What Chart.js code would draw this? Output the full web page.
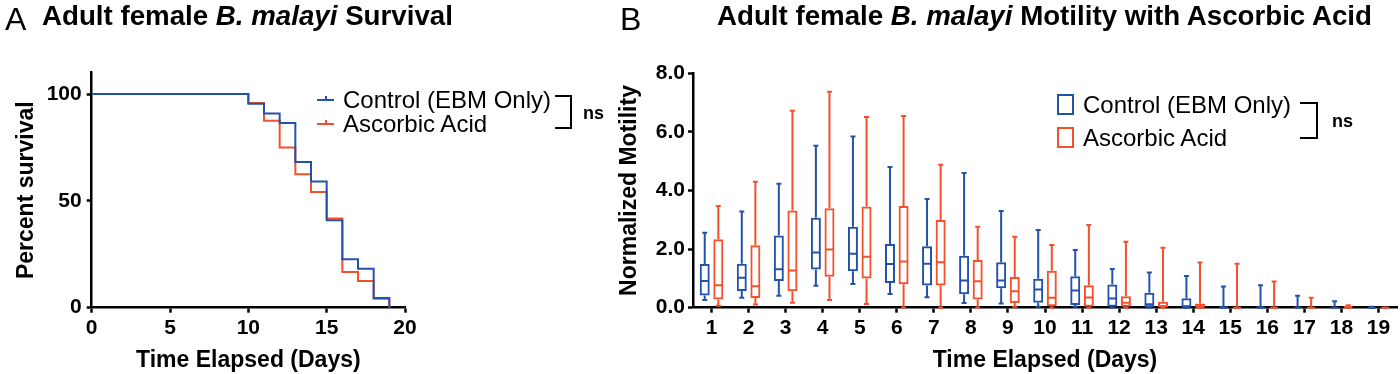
<!DOCTYPE html>
<html><head><meta charset="utf-8">
<script src="https://cdn.jsdelivr.net/npm/chart.js@4.4.0/dist/chart.umd.min.js"></script>
<style>
html,body{margin:0;padding:0;background:#fff;}
#wrap{position:relative;width:1400px;height:374px;overflow:hidden;font-family:"Liberation Sans",Arial,sans-serif;color:#000;background:#fff;}
.abs{position:absolute;white-space:nowrap;}
#cA{position:absolute;left:0;top:0;}
#cB{position:absolute;left:610px;top:0;}
.title{font-weight:bold;font-size:27.7px;line-height:1;}
.panel{font-size:32px;line-height:1;}
.leg{font-size:24px;line-height:24px;}
.ns{font-weight:bold;font-size:18px;line-height:18px;}
.bracket{border:2px solid #000;border-left:none;}
</style></head>
<body>
<div id="wrap">
  <canvas id="cA" width="610" height="374"></canvas>
  <canvas id="cB" width="790" height="374"></canvas>
  <div class="abs panel" style="left:5px;top:3px;">A</div>
  <div class="abs title" style="left:42px;top:2px;">Adult female <i>B. malayi</i> Survival</div>
  <div class="abs panel" style="left:620px;top:3px;">B</div>
  <div class="abs title" style="left:717px;top:2px;">Adult female <i>B. malayi</i> Motility with Ascorbic Acid</div>
  <div id="legA"></div>
  <div id="legB"></div>
  <div class="abs bracket" style="left:555px;top:95px;width:15px;height:30px;"></div>
  <div class="abs ns" style="left:583px;top:104px;">ns</div>
  <div class="abs bracket" style="left:1300px;top:102px;width:16px;height:33px;"></div>
  <div class="abs ns" style="left:1332px;top:112px;">ns</div>
</div>
<script>
// ---------- Panel A data (Kaplan-Meier) ----------
const survivalDays     = [0, 10, 11, 12, 13, 14, 15, 16, 17, 18, 19];
const controlSurvival  = [100, 95.5, 90.9, 86.4, 68.2, 59.1, 40.9, 22.7, 18.2, 4.5, 0];
const ascorbicSurvival = [100, 95.8, 87.5, 75.0, 62.5, 54.2, 41.7, 16.7, 12.5, 4.2, 0];
const survivalTicks    = [0, 50, 100];

// ---------- Panel B data (box plots) ----------
const days = ['1','2','3','4','5','6','7','8','9','10','11','12','13','14','15','16','17','18','19'];
const ctlMin = [0.26,0.34,0.41,0.75,0.81,0.47,0.36,0.16,0.14,0.03,0.03,0.00,0.00,0.00,0.00,0.00,0.00,0.00,0.00];
const ctlQ1  = [0.42,0.57,0.91,1.30,1.24,0.84,0.76,0.46,0.66,0.17,0.09,0.03,0.00,0.00,0.00,0.00,0.00,0.00,0.00];
const ctlMed = [0.91,1.02,1.31,1.88,1.84,1.49,1.50,0.93,0.93,0.62,0.59,0.31,0.12,0.03,0.01,0.01,0.00,0.00,0.00];
const ctlQ3  = [1.49,1.50,2.46,3.07,2.76,2.17,2.10,1.77,1.55,0.99,1.07,0.79,0.51,0.32,0.04,0.04,0.01,0.01,0.02];
const ctlMax = [2.56,3.28,4.23,5.53,5.84,4.80,3.71,4.60,3.30,2.65,1.97,1.32,1.20,1.08,0.72,0.77,0.41,0.22,0.03];
const ascMin = [0.07,0.11,0.17,0.26,0.13,0.00,0.00,0.00,0.03,0.00,0.00,0.00,0.00,0.00,0.00,0.00,0.00,0.00,0.00];
const ascQ1  = [0.28,0.33,0.56,1.06,1.00,0.80,0.76,0.28,0.16,0.05,0.03,0.03,0.00,0.00,0.00,0.00,0.00,0.00,0.00];
const ascMed = [0.77,0.73,1.27,1.99,1.74,1.58,1.55,0.90,0.56,0.34,0.35,0.17,0.05,0.02,0.00,0.00,0.00,0.02,0.00];
const ascQ3  = [2.34,2.13,3.32,3.39,3.45,3.47,2.99,1.63,1.05,1.26,0.77,0.39,0.20,0.14,0.03,0.01,0.01,0.05,0.01];
const ascMax = [3.47,4.30,6.72,7.37,6.51,6.54,4.88,2.76,2.42,2.14,2.82,2.25,2.05,1.54,1.50,0.89,0.34,0.08,0.01];

const seriesNames = ['Control (EBM Only)', 'Ascorbic Acid'];
const BLUE = '#2352ad';
const RED  = '#f4502b';

Chart.defaults.font.family = '"Liberation Sans", Arial, sans-serif';
Chart.defaults.color = '#000';

const tickFont = {family:'"Liberation Sans", Arial, sans-serif', size:21, weight:'bold'};
const titleFont = {family:'"Liberation Sans", Arial, sans-serif', size:23, weight:'bold'};
const axisGrid = {drawOnChartArea:false, tickLength:5, tickWidth:2.5, tickColor:'#000'};
const axisBorder = {color:'#000', width:2.5};

// ---------- Chart A ----------
const chartA = new Chart(document.getElementById('cA'), {
  type:'line',
  data:{
    datasets:[
      {label:seriesNames[0], data:survivalDays.map((d,i)=>({x:d,y:controlSurvival[i]})),
       borderColor:BLUE, borderWidth:2, pointRadius:0, stepped:true, fill:false},
      {label:seriesNames[1], data:survivalDays.map((d,i)=>({x:d,y:ascorbicSurvival[i]})),
       borderColor:RED, borderWidth:2, pointRadius:0, stepped:true, fill:false}
    ]
  },
  options:{
    responsive:false, animation:false, devicePixelRatio:1,
    layout:{padding:{left:0,right:205,top:72.7,bottom:0}},
    plugins:{legend:{display:false}, tooltip:{enabled:false}},
    scales:{
      x:{type:'linear', min:0, max:20,
         ticks:{stepSize:5, font:tickFont, color:'#000', padding:3, maxRotation:0},
         grid:axisGrid, border:axisBorder,
         title:{display:true, text:'Time Elapsed (Days)', font:titleFont, color:'#000', padding:{top:0,bottom:0}},
         afterFit:s=>{s.height=66.3;}},
      y:{type:'linear', min:0, max:110,
         ticks:{stepSize:50, font:tickFont, color:'#000', padding:5},
         afterBuildTicks:s=>{s.ticks = survivalTicks.map(v=>({value:v}));},
         grid:axisGrid, border:axisBorder,
         title:{display:true, text:'Percent survival', font:titleFont, color:'#000', padding:{top:13,bottom:0}},
         afterFit:s=>{s.width=91.7;}}
    }
  }
});

// ---------- Chart B ----------
const boxStats = [
  {min:ctlMin, q1:ctlQ1, med:ctlMed, q3:ctlQ3, max:ctlMax},
  {min:ascMin, q1:ascQ1, med:ascMed, q3:ascQ3, max:ascMax}
];
const whiskerPlugin = {
  id:'whiskers',
  afterDatasetsDraw(chart){
    const ctx = chart.ctx, ys = chart.scales.y;
    chart.data.datasets.forEach((ds,di)=>{
      const st = boxStats[di];
      const meta = chart.getDatasetMeta(di);
      meta.data.forEach((bar,i)=>{
        const x = bar.x, hw = bar.width/2, cap = 2.5;
        const pMin = ys.getPixelForValue(st.min[i]);
        const pQ1 = ys.getPixelForValue(st.q1[i]);
        const pMed = ys.getPixelForValue(st.med[i]);
        const pQ3 = ys.getPixelForValue(st.q3[i]);
        const pMax = ys.getPixelForValue(st.max[i]);
        ctx.save();
        ctx.strokeStyle = ds.borderColor;
        ctx.lineWidth = 2;
        ctx.beginPath();
        ctx.moveTo(x,pQ3); ctx.lineTo(x,pMax);
        ctx.moveTo(x-cap,pMax); ctx.lineTo(x+cap,pMax);
        ctx.moveTo(x,pQ1); ctx.lineTo(x,pMin);
        ctx.moveTo(x-cap,pMin); ctx.lineTo(x+cap,pMin);
        ctx.moveTo(x-hw+1,pMed); ctx.lineTo(x+hw-1,pMed);
        ctx.stroke();
        ctx.restore();
      });
    });
  }
};

const chartB = new Chart(document.getElementById('cB'), {
  type:'bar',
  data:{
    labels:days,
    datasets:[
      {label:seriesNames[0], data:ctlQ1.map((q,i)=>[q,ctlQ3[i]]), borderColor:BLUE, backgroundColor:'rgba(255,255,255,0)',
       borderWidth:2, borderSkipped:false, categoryPercentage:0.734, barPercentage:0.735},
      {label:seriesNames[1], data:ascQ1.map((q,i)=>[q,ascQ3[i]]), borderColor:RED, backgroundColor:'rgba(255,255,255,0)',
       borderWidth:2, borderSkipped:false, categoryPercentage:0.734, barPercentage:0.735}
    ]
  },
  options:{
    responsive:false, animation:false, devicePixelRatio:1,
    layout:{padding:{left:0,right:3,top:73.3,bottom:0}},
    plugins:{legend:{display:false}, tooltip:{enabled:false}},
    scales:{
      x:{type:'category', offset:true,
         ticks:{font:tickFont, color:'#000', padding:3, maxRotation:0, autoSkip:false},
         grid:Object.assign({}, axisGrid, {offset:false}), border:axisBorder,
         title:{display:true, text:'Time Elapsed (Days)', font:titleFont, color:'#000', padding:{top:0,bottom:0}},
         afterFit:s=>{s.height=66.3;}},
      y:{type:'linear', min:0, max:8,
         ticks:{stepSize:2, font:tickFont, color:'#000', padding:3, callback:v=>Number(v).toFixed(1)},
         grid:axisGrid, border:axisBorder,
         title:{display:true, text:'Normalized Motility', font:titleFont, color:'#000', padding:{top:6,bottom:0}},
         afterFit:s=>{s.width=83;}}
    }
  },
  plugins:[whiskerPlugin]
});

// ---------- Legends built from dataset labels/colours ----------
function buildLegend(containerId, chart, opts){
  const c = document.getElementById(containerId);
  chart.data.datasets.forEach((ds,i)=>{
    const top = opts.tops[i];
    const sym = document.createElement('div');
    sym.className = 'abs';
    if (opts.kind === 'line') {
      sym.style.cssText = `left:${opts.symX}px;top:${top+11}px;width:17px;height:2px;background:${ds.borderColor};`;
      const tick = document.createElement('div');
      tick.className = 'abs';
      tick.style.cssText = `left:${opts.symX+8}px;top:${top+8}px;width:2px;height:4px;background:${ds.borderColor};`;
      c.appendChild(tick);
    } else {
      sym.style.cssText = `left:${opts.symX}px;top:${top+1}px;width:13px;height:17px;border:2px solid ${ds.borderColor};`;
    }
    c.appendChild(sym);
    const t = document.createElement('div');
    t.className = 'abs leg';
    t.style.left = opts.textX + 'px';
    t.style.top = top + 'px';
    t.textContent = ds.label;
    c.appendChild(t);
  });
}
buildLegend('legA', chartA, {kind:'line', symX:317, textX:343, tops:[88.3, 111.8]});
buildLegend('legB', chartB, {kind:'box', symX:1057, textX:1083, tops:[93, 126]});
</script>
</body></html>
